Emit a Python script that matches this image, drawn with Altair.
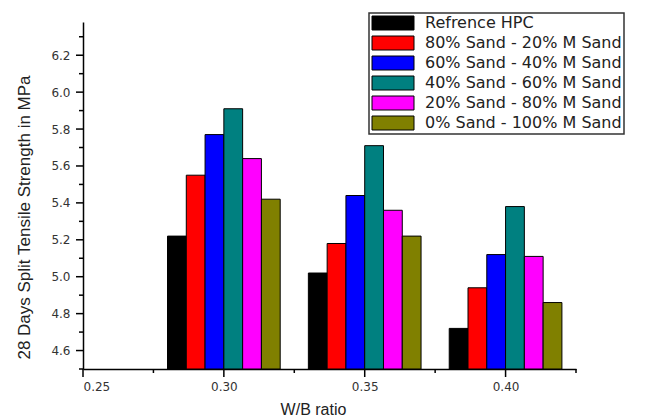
import altair as alt
import pandas as pd

# W/B ratios on the x axis and the six sand mixes
wb_ratios = [0.30, 0.35, 0.40]
series = [
    "Refrence HPC",
    "80% Sand - 20% M Sand",
    "60% Sand - 40% M Sand",
    "40% Sand - 60% M Sand",
    "20% Sand - 80% M Sand",
    "0% Sand - 100% M Sand",
]
colors = ["#000000", "#FF0000", "#0000FF", "#008080", "#FF00FF", "#808000"]

# 28-day split tensile strength (MPa), one list per mix, ordered by W/B ratio
ref_hpc = [5.22, 5.02, 4.72]
sand80 = [5.55, 5.18, 4.94]
sand60 = [5.77, 5.44, 5.12]
sand40 = [5.91, 5.71, 5.38]
sand20 = [5.64, 5.36, 5.11]
sand0 = [5.42, 5.22, 4.86]
values = [ref_hpc, sand80, sand60, sand40, sand20, sand0]

x_ticks = [0.25, 0.30, 0.35, 0.40]
x_minor = [0.275, 0.325, 0.375, 0.425]
y_ticks = [4.6, 4.8, 5.0, 5.2, 5.4, 5.6, 5.8, 6.0, 6.2]
y_minor = [4.5, 4.7, 4.9, 5.1, 5.3, 5.5, 5.7, 5.9, 6.1, 6.3]

W, H = 493, 347
group_width = 0.04
bar_w = group_width / len(series)

rows = []
for si, name in enumerate(series):
    for wi, wb in enumerate(wb_ratios):
        left = wb - group_width / 2 + si * bar_w
        rows.append({"wb": wb, "series": name, "value": values[si][wi],
                     "x0": left, "x1": left + bar_w})
df = pd.DataFrame(rows)

FONT_TICK = "DejaVu Sans"
FONT_TITLE = "Liberation Sans"

x_scale = alt.Scale(domain=[0.25, 0.425], nice=False, zero=False)
y_scale = alt.Scale(domain=[4.5, 6.38], nice=False, zero=False)

bars = alt.Chart(df).mark_bar(stroke="black", strokeWidth=1).encode(
    x=alt.X("x0:Q", scale=x_scale, axis=alt.Axis(
        orient="bottom", values=x_ticks, format=".2f", ticks=False,
        domainColor="black", domainWidth=1.5,
        labelFont=FONT_TICK, labelFontSize=12, labelColor="#333", labelPadding=12,
        grid=False, title="W/B ratio", titleFont=FONT_TITLE, titleFontSize=16,
        titleFontWeight="normal", titleColor="#222", titleX=230, titleY=32)),
    x2="x1:Q",
    y=alt.Y("value:Q", scale=y_scale, axis=alt.Axis(
        orient="left", values=y_ticks, format=".1f", ticks=False,
        domainColor="black", domainWidth=1.5,
        labelFont=FONT_TICK, labelFontSize=12, labelColor="#333", labelPadding=13,
        grid=False, title="28 Days Split Tensile Strength in MPa",
        titleFont=FONT_TITLE, titleFontSize=17, titleFontWeight="normal",
        titleColor="#222", titleX=-50, titleY=195)),
    y2=alt.datum(4.5),
    color=alt.Color("series:N", scale=alt.Scale(domain=series, range=colors),
                    legend=alt.Legend(
                        title=None, orient="none", legendX=286, legendY=-9,
                        symbolType="M-1,-1H5V1H-1Z", symbolSize=196,
                        symbolStrokeColor="black", symbolStrokeWidth=1,
                        symbolOpacity=1, labelOffset=38,
                        labelFont=FONT_TICK, labelFontSize=16, labelColor="#222",
                        labelLimit=400, rowPadding=2, padding=2,
                        strokeColor="#333", fillColor="white")),
)


def x_tick_rules(tick_values, length):
    data = pd.DataFrame({"t": tick_values})
    return alt.Chart(data).mark_rule(color="black", strokeWidth=1.5).encode(
        x=alt.X("t:Q", scale=x_scale, axis=None),
        y=alt.value(H), y2=alt.value(H + length))


def y_tick_rules(tick_values, length):
    data = pd.DataFrame({"t": tick_values})
    return alt.Chart(data).mark_rule(color="black", strokeWidth=1.5).encode(
        y=alt.Y("t:Q", scale=y_scale, axis=None),
        x=alt.value(0), x2=alt.value(-length))


chart = alt.layer(
    bars,
    x_tick_rules(x_ticks, 8), x_tick_rules(x_minor, 4),
    y_tick_rules(y_ticks, 7), y_tick_rules(y_minor, 4),
).resolve_axis(x="independent", y="independent").properties(
    width=W, height=H,
    padding={"left": 83, "top": 22, "right": 73, "bottom": 51},
    autosize=alt.AutoSizeParams(type="none"),
    background="white",
).configure_view(strokeWidth=0).configure_legend(strokeWidth=1.5)

chart.save("out.html", embed_options={"renderer": "svg", "actions": False})
